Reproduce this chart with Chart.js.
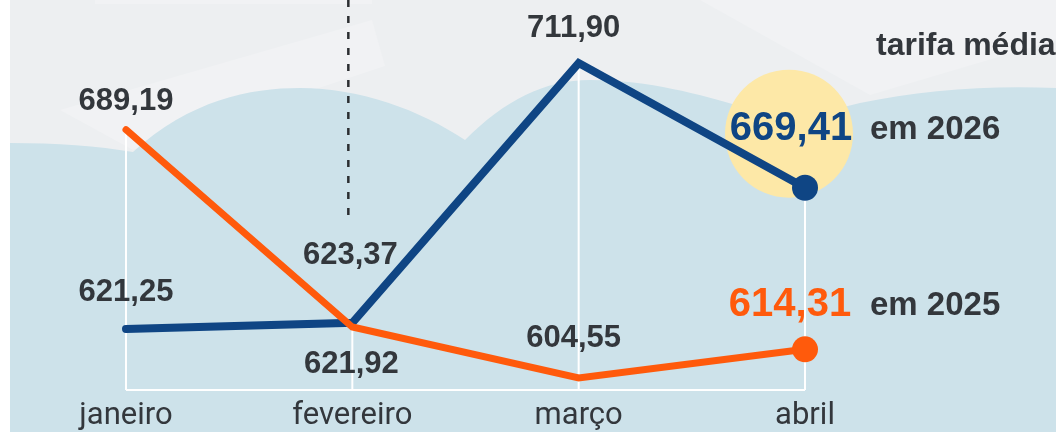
<!DOCTYPE html>
<html lang="pt-BR">
<head>
<meta charset="utf-8">
<title>Tarifa média</title>
<script src="https://cdn.jsdelivr.net/npm/chart.js@4.4.1/dist/chart.umd.min.js"></script>
<style>
  html, body { margin: 0; padding: 0; background: #fff; }
  canvas { display: block; }
</style>
</head>
<body>
<canvas id="chart" width="1056" height="432"></canvas>
<script>
// dados
const months = ['janeiro', 'fevereiro', 'março', 'abril'];
const tarifa2026 = [621.25, 623.37, 711.90, 669.41];
const tarifa2025 = [689.19, 621.92, 604.55, 614.31];
const seriesNames = ['em 2026', 'em 2025'];
const titleText = 'tarifa média';

const BLUE = '#0f4584';
const ORANGE = '#ff5a0c';
const TEXT = '#33373c';
const BOLD = '"Liberation Sans", Arial, sans-serif';

// where each value label sits relative to its point (dx, dy)
const labelOffsets = {
  blue: [[0, -37], [-2, -67], [-5, -35], [-14, -59]],
  orange: [[0, -28], [-1, 37], [-5, -40], [-15, -44]]
};

const fmt = v => v.toFixed(2).replace('.', ',');

const backgroundPlugin = {
  id: 'background',
  beforeDraw(chart) {
    const ctx = chart.ctx;
    const w = chart.width, h = chart.height;
    ctx.save();
    ctx.fillStyle = '#edeff1';
    ctx.fillRect(0, 0, w, h);

    // faint light bands
    ctx.fillStyle = '#f1f2f4';
    ctx.beginPath();
    ctx.moveTo(95, 0); ctx.lineTo(372, 0); ctx.lineTo(372, 4); ctx.lineTo(95, 4);
    ctx.closePath(); ctx.fill();
    ctx.beginPath();
    ctx.moveTo(60, 110); ctx.lineTo(372, 20); ctx.lineTo(385, 66); ctx.lineTo(133, 150);
    ctx.closePath(); ctx.fill();
    ctx.beginPath();
    ctx.moveTo(700, 0); ctx.lineTo(1056, 0); ctx.lineTo(1056, 40); ctx.lineTo(870, 95);
    ctx.closePath(); ctx.fill();

    // blue wave
    ctx.fillStyle = '#cde2ea';
    ctx.beginPath();
    ctx.moveTo(10, 143);
    ctx.quadraticCurveTo(80, 143, 133, 152);
    ctx.bezierCurveTo(190, 100, 250, 88, 300, 88);
    ctx.bezierCurveTo(360, 88, 420, 110, 465, 140);
    ctx.bezierCurveTo(505, 100, 545, 80, 590, 80);
    ctx.bezierCurveTo(650, 80, 700, 95, 740, 106);
    ctx.quadraticCurveTo(800, 120, 860, 103);
    ctx.bezierCurveTo(920, 90, 990, 85, 1056, 88);
    ctx.lineTo(1056, h);
    ctx.lineTo(10, h);
    ctx.closePath();
    ctx.fill();

    // white strip on the left edge
    ctx.fillStyle = '#ffffff';
    ctx.fillRect(0, 0, 10, h);

    // yellow highlight behind the latest 2026 value
    const last = chart.getDatasetMeta(0).data[months.length - 1];
    if (last) {
      ctx.fillStyle = '#fde8a7';
      ctx.beginPath();
      ctx.arc(last.x - 16, last.y - 54, 64, 0, Math.PI * 2);
      ctx.fill();
    }
    ctx.restore();
  },
  beforeDatasetsDraw(chart) {
    const ctx = chart.ctx;
    const x = chart.scales.x, y = chart.scales.y;
    const bottom = chart.chartArea.bottom;
    ctx.save();
    ctx.strokeStyle = '#ffffff';
    ctx.lineWidth = 2;
    months.forEach((m, i) => {
      const px = x.getPixelForValue(i);
      const top = y.getPixelForValue(Math.max(tarifa2026[i], tarifa2025[i]));
      ctx.beginPath();
      ctx.moveTo(px, top);
      ctx.lineTo(px, bottom);
      ctx.stroke();
    });
    ctx.beginPath();
    ctx.moveTo(x.getPixelForValue(0), bottom);
    ctx.lineTo(x.getPixelForValue(months.length - 1), bottom);
    ctx.stroke();

    // dashed marker
    const dx = x.getPixelForValue(1) - 4;
    ctx.strokeStyle = '#2b2e31';
    ctx.lineWidth = 2.5;
    ctx.setLineDash([7, 9]);
    ctx.beginPath();
    ctx.moveTo(dx, 0);
    ctx.lineTo(dx, 215);
    ctx.stroke();
    ctx.restore();
  }
};

const labelPlugin = {
  id: 'valueLabels',
  afterDatasetsDraw(chart) {
    const ctx = chart.ctx;
    ctx.save();
    ctx.textBaseline = 'middle';
    const sets = [
      { meta: chart.getDatasetMeta(0), values: tarifa2026, offs: labelOffsets.blue, color: BLUE, name: seriesNames[0] },
      { meta: chart.getDatasetMeta(1), values: tarifa2025, offs: labelOffsets.orange, color: ORANGE, name: seriesNames[1] }
    ];
    sets.forEach(s => {
      s.meta.data.forEach((pt, i) => {
        const isLast = i === s.values.length - 1;
        const lx = pt.x + s.offs[i][0];
        const ly = pt.y + s.offs[i][1];
        ctx.fillStyle = isLast ? s.color : TEXT;
        ctx.font = (isLast ? 'bold 40px ' : 'bold 31px ') + BOLD;
        ctx.textAlign = 'center';
        ctx.fillText(fmt(s.values[i]), lx, ly);
        if (isLast) {
          ctx.fillStyle = TEXT;
          ctx.font = 'bold 33px ' + BOLD;
          ctx.textAlign = 'left';
          ctx.fillText(s.name, 870, ly + 1);
        }
      });
    });
    ctx.fillStyle = TEXT;
    ctx.font = 'bold 32px ' + BOLD;
    ctx.textAlign = 'left';
    ctx.fillText(titleText, 876, 46);
    ctx.restore();
  }
};

new Chart(document.getElementById('chart'), {
  type: 'line',
  data: {
    labels: months,
    datasets: [
      {
        label: seriesNames[0],
        data: tarifa2026,
        borderColor: BLUE,
        backgroundColor: BLUE,
        borderWidth: 8,
        pointRadius: [0, 0, 0, 13],
        pointBackgroundColor: BLUE,
        pointBorderWidth: 0,
        borderCapStyle: 'round',
        borderJoinStyle: 'miter',
        tension: 0,
        clip: false,
        order: 1
      },
      {
        label: seriesNames[1],
        data: tarifa2025,
        borderColor: ORANGE,
        backgroundColor: ORANGE,
        borderWidth: 7,
        pointRadius: [0, 0, 0, 13],
        pointBackgroundColor: ORANGE,
        pointBorderWidth: 0,
        borderCapStyle: 'round',
        borderJoinStyle: 'miter',
        tension: 0,
        clip: false,
        order: 0
      }
    ]
  },
  options: {
    responsive: false,
    animation: false,
    devicePixelRatio: 1,
    layout: { autoPadding: false, padding: { left: 126, right: 251, top: 0, bottom: -11 } },
    plugins: {
      legend: { display: false },
      tooltip: { enabled: false }
    },
    scales: {
      x: {
        offset: false,
        grid: { display: false, drawTicks: false },
        border: { display: false },
        ticks: {
          color: TEXT,
          padding: 11,
          font: { family: 'Roboto, "Liberation Sans", sans-serif', size: 31, lineHeight: 1.0 },
          maxRotation: 0,
          autoSkip: false
        }
      },
      y: {
        display: false,
        min: 600.45,
        max: 733.4
      }
    }
  },
  plugins: [backgroundPlugin, labelPlugin]
});
</script>
</body>
</html>
